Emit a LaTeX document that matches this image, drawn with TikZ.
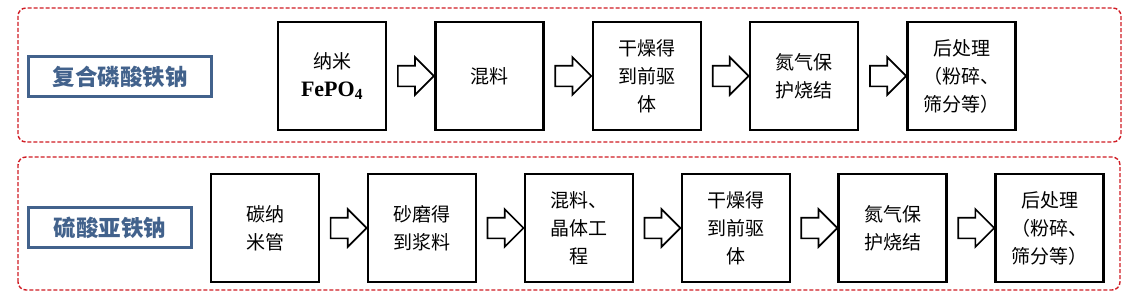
\documentclass[tikz,border=0pt]{standalone}
\usepackage{fontspec}
\setmainfont{Liberation Serif}
\newfontfamily\cjk{Noto Sans CJK SC}
\usetikzlibrary{positioning,shapes.arrows,calc}
\definecolor{framered}{RGB}{208,28,36}
\definecolor{labelblue}{RGB}{66,98,140}
\begin{document}
\begin{tikzpicture}[x=1pt,y=1pt,
  stepbox/.style={draw=black,line width=2.4pt,minimum width=108pt,minimum height=108pt,inner sep=0pt,align=center,font=\cjk\fontsize{19}{28}\selectfont},
  labelbox/.style={draw=labelblue,line width=3pt,text=labelblue,inner sep=0pt,font=\cjk\bfseries\fontsize{22.5}{26}\selectfont},
  flowarrow/.style={draw=black,line width=1.7pt,fill=white,single arrow,single arrow head extend=8.5pt,minimum height=36pt,inner xsep=0pt,inner ysep=9.5pt},
  groupframe/.style={draw=framered,line width=1.4pt,dash pattern=on 4pt off 2pt,rounded corners=8pt}]
\useasboundingbox (0,0) rectangle (1134,306);
\draw[groupframe] (18,164) rectangle (1121,298);
\draw[groupframe] (18,16) rectangle (1120,149);
% upper route
\node[labelbox,minimum width=183pt,minimum height=40pt] (nfp) at (120,229.5) {复合磷酸铁钠};
\node[stepbox] (nfp1) at (332,230) {纳米\\{\rmfamily\bfseries\fontsize{22}{28}\selectfont FePO\textsubscript{4}}};
\node[stepbox,right=47pt of nfp1] (nfp2) {混料};
\node[stepbox,right=47pt of nfp2] (nfp3) {干燥得\\到前驱\\体};
\node[stepbox,right=47pt of nfp3] (nfp4) {氮气保\\护烧结};
\node[stepbox,right=47pt of nfp4] (nfp5) {后处理\\（粉碎、\\筛分等）};
% lower route
\node[labelbox,minimum width=163pt,minimum height=40pt] (nfs) at (110,78.5) {硫酸亚铁钠};
\node[stepbox] (nfs1) at (265,78) {碳纳\\米管};
\node[stepbox,right=46.5pt of nfs1] (nfs2) {砂磨得\\到浆料};
\node[stepbox,right=46.5pt of nfs2] (nfs3) {混料、\\晶体工\\程};
\node[stepbox,right=46.5pt of nfs3] (nfs4) {干燥得\\到前驱\\体};
\node[stepbox,right=46.5pt of nfs4] (nfs5) {氮气保\\护烧结};
\node[stepbox,right=46.5pt of nfs5] (nfs6) {后处理\\（粉碎、\\筛分等）};
\foreach \a/\b in {nfp1/nfp2,nfp2/nfp3,nfp3/nfp4,nfp4/nfp5,nfs1/nfs2,nfs2/nfs3,nfs3/nfs4,nfs4/nfs5,nfs5/nfs6}
  \node[flowarrow] (\a-\b) at ($(\a.east)!0.5!(\b.west)$) {};
\end{tikzpicture}
\end{document}
